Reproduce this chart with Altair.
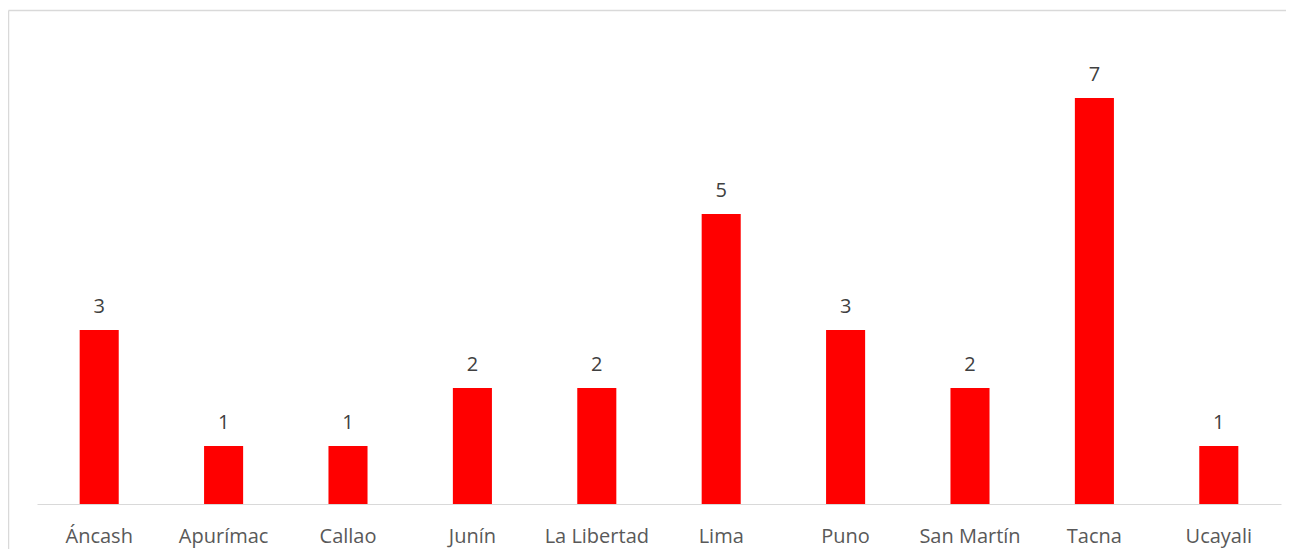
import altair as alt
import pandas as pd

regions = ["Áncash", "Apurímac", "Callao", "Junín", "La Libertad", "Lima", "Puno", "San Martín", "Tacna", "Ucayali"]
counts = [3, 1, 1, 2, 2, 5, 3, 2, 7, 1]

df = pd.DataFrame({"region": regions, "count": counts})

W, H = 1244, 464
PL, PT, PR, PB = 29, 32, 5, 45

x = alt.X("region:N", sort=regions, title=None,
          scale=alt.Scale(paddingInner=0.686, paddingOuter=0.343),
          axis=alt.Axis(labelAngle=0, ticks=False, labelPadding=38, labelBaseline="alphabetic",
                        labelFontSize=20, labelFont="Open Sans", labelColor="#595959",
                        domainColor="#d9d9d9", domainWidth=1.2, grid=False))
y = alt.Y("count:Q", title=None, scale=alt.Scale(domain=[0, 8]), axis=None)

bars = alt.Chart(df).mark_bar(color="#ff0000").encode(x=x, y=y)
labels = alt.Chart(df).mark_text(baseline="alphabetic", dy=-17, fontSize=20, font="Open Sans",
                                 color="#404040").encode(x=x, y=y, text="count:Q")

frame = pd.DataFrame({"a": [0]})
top_line = alt.Chart(frame).mark_rule(stroke="#d9d9d9", strokeWidth=1.5).encode(
    x=alt.value(-PL + 0.5), x2=alt.value(W + PR), y=alt.value(-PT + 2.5))
left_line = alt.Chart(frame).mark_rule(stroke="#d9d9d9", strokeWidth=1.5).encode(
    x=alt.value(-PL + 0.5), y=alt.value(-PT + 2.5), y2=alt.value(H + PB))

chart = alt.layer(top_line, left_line, bars, labels).properties(
    width=W, height=H,
    autosize=alt.AutoSizeParams(type="none"),
    padding={"left": PL, "top": PT, "right": PR, "bottom": PB},
).configure(background="white").configure_view(stroke=None)

chart.save("out.html", embed_options={"renderer": "svg", "actions": False})
